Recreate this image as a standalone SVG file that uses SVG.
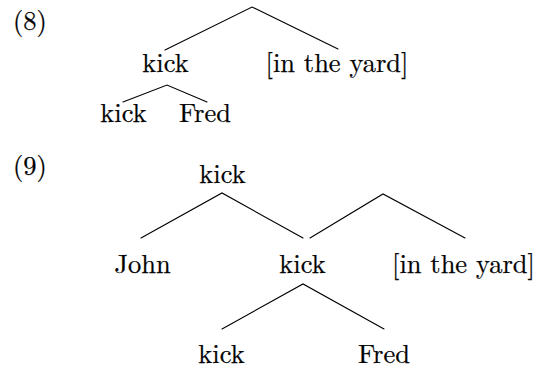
<svg xmlns="http://www.w3.org/2000/svg" width="538" height="370" viewBox="0 0 538 370">
  <style>
    .lbl { font-size: 26.5px; fill: #000; stroke: #000; stroke-width: 0.25; text-anchor: middle; }
    .num { text-anchor: start; }
    .edge { stroke: #000; stroke-width: 1.1; fill: none; stroke-linecap: round; }
  </style>
  <rect width="538" height="370" fill="#fff"/>

  <g font-family="'Latin Modern Roman', 'Liberation Serif', serif">
    <!-- example numbers -->
    <text class="lbl num" x="13" y="30">(8)</text>
    <text class="lbl num" x="13" y="175">(9)</text>

    <!-- tree (8) -->
    <g id="t8-kick"><text class="lbl" x="165.5" y="72">kick</text></g>
    <g id="t8-pp"><text class="lbl" x="337" y="72">[in the yard]</text></g>
    <g id="t8-kick-v"><text class="lbl" x="123.5" y="122">kick</text></g>
    <g id="t8-fred"><text class="lbl" x="205" y="122">Fred</text></g>

    <!-- tree (9) -->
    <g id="t9-root"><text class="lbl" x="222.5" y="183">kick</text></g>
    <g id="t9-john"><text class="lbl" x="142.5" y="273">John</text></g>
    <g id="t9-kick-mid"><text class="lbl" x="302.5" y="273">kick</text></g>
    <g id="t9-pp"><text class="lbl" x="463.5" y="273">[in the yard]</text></g>
    <g id="t9-kick-v"><text class="lbl" x="221.5" y="363">kick</text></g>
    <g id="t9-fred"><text class="lbl" x="384" y="363">Fred</text></g>
  </g>

  <g id="connectors">
    <!-- tree (8) -->
    <polyline class="edge" points="165,50 252,7 338,49"/>
    <polyline class="edge" points="123,102 167,85 207,102"/>
    <!-- tree (9) -->
    <polyline class="edge" points="141,238 222,193 303,238"/>
    <polyline class="edge" points="310,238 383,194 465,238"/>
    <polyline class="edge" points="222,329 303,284 384,329"/>
  </g>
</svg>
